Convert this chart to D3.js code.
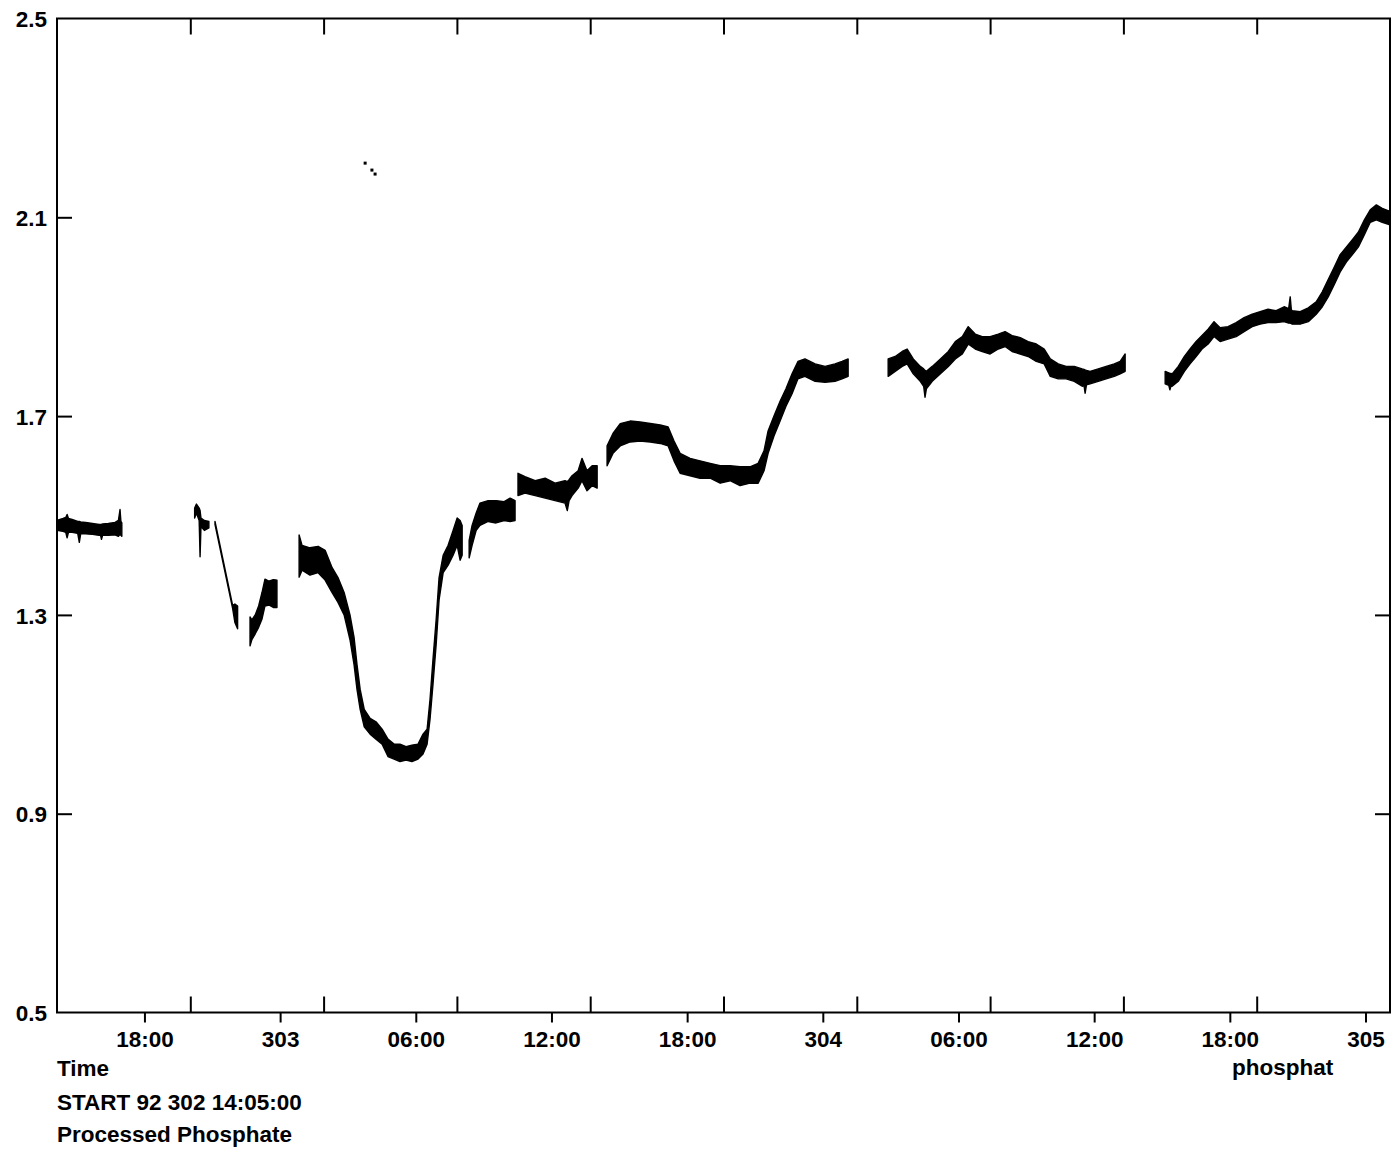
<!DOCTYPE html>
<html>
<head>
<meta charset="utf-8">
<script src="https://cdn.jsdelivr.net/npm/d3@7"></script>
<style>
  html, body { margin: 0; padding: 0; background: #fff; }
  svg { display: block; }
  text { font-family: "Liberation Sans", Arial, Helvetica, sans-serif; font-weight: bold; font-size: 22.5px; fill: #000; }
</style>
</head>
<body>
<svg id="chart" width="1394" height="1156"></svg>
<script>
// Processed phosphate record, START 92 302 14:05:00.
// Time is in hours since day 302 00:00; each row is [time, low, high]
// of the trace envelope.

const timeDomain = [14.133, 73.083];
const valueDomain = [0.5, 2.5];

const yTickValues = [0.5, 0.9, 1.3, 1.7, 2.1, 2.5];
const yTickLabels = ["0.5", "0.9", "1.3", "1.7", "2.1", "2.5"];
const timeTickValues = [18, 24, 30, 36, 42, 48, 54, 60, 66, 72];
const timeTickLabels = ["18:00", "303", "06:00", "12:00", "18:00", "304", "06:00", "12:00", "18:00", "305"];

const segA = [
  [14.13, 1.470, 1.490], [14.40, 1.468, 1.494], [14.52, 1.466, 1.496], [14.58, 1.455, 1.502],
  [14.64, 1.466, 1.494], [14.80, 1.466, 1.492], [15.05, 1.464, 1.488], [15.12, 1.446, 1.488],
  [15.18, 1.463, 1.487], [15.40, 1.463, 1.486], [15.70, 1.462, 1.484], [16.00, 1.460, 1.482],
  [16.06, 1.460, 1.482], [16.10, 1.452, 1.482], [16.15, 1.460, 1.483], [16.40, 1.460, 1.484],
  [16.70, 1.461, 1.486], [16.85, 1.458, 1.490], [16.92, 1.462, 1.512], [16.96, 1.460, 1.488],
  [17.00, 1.458, 1.485]
];
const segB = [
  [20.22, 1.495, 1.515], [20.30, 1.505, 1.523], [20.42, 1.490, 1.515], [20.46, 1.417, 1.510],
  [20.50, 1.478, 1.495], [20.65, 1.470, 1.490], [20.85, 1.475, 1.488]
];
const segBLine = [
  [21.12, 1.482, 1.488], [21.90, 1.313, 1.319], [22.00, 1.285, 1.322], [22.12, 1.272, 1.318]
];
const segC = [
  [22.67, 1.238, 1.296], [22.75, 1.250, 1.290], [22.90, 1.262, 1.300], [23.05, 1.275, 1.318],
  [23.20, 1.292, 1.345], [23.33, 1.318, 1.372], [23.50, 1.320, 1.368], [23.70, 1.315, 1.371],
  [23.86, 1.315, 1.370]
];
const segD = [
  [24.84, 1.376, 1.461], [24.97, 1.390, 1.440], [25.32, 1.380, 1.435], [25.68, 1.385, 1.438],
  [25.99, 1.370, 1.430], [26.30, 1.345, 1.395], [26.56, 1.325, 1.375], [26.83, 1.300, 1.345],
  [27.09, 1.250, 1.300], [27.27, 1.200, 1.255], [27.40, 1.150, 1.200], [27.54, 1.110, 1.150],
  [27.72, 1.075, 1.110], [27.98, 1.060, 1.092], [28.24, 1.050, 1.085], [28.51, 1.040, 1.070],
  [28.77, 1.015, 1.050], [29.04, 1.010, 1.040], [29.30, 1.005, 1.040], [29.57, 1.008, 1.035],
  [29.83, 1.005, 1.038], [30.10, 1.010, 1.040], [30.32, 1.020, 1.060], [30.50, 1.040, 1.070],
  [30.63, 1.090, 1.130], [30.76, 1.160, 1.210], [30.90, 1.240, 1.290], [31.03, 1.330, 1.375],
  [31.21, 1.385, 1.420], [31.43, 1.400, 1.440], [31.65, 1.420, 1.470], [31.83, 1.440, 1.495],
  [31.96, 1.410, 1.490], [32.05, 1.420, 1.480]
];
const segE = [
  [32.36, 1.415, 1.450], [32.49, 1.440, 1.480], [32.67, 1.470, 1.505], [32.84, 1.480, 1.525],
  [33.20, 1.488, 1.530], [33.55, 1.485, 1.530], [33.91, 1.490, 1.528], [34.17, 1.488, 1.535],
  [34.39, 1.490, 1.530]
];
const segF = [
  [34.52, 1.540, 1.585], [34.83, 1.545, 1.578], [35.28, 1.540, 1.570], [35.72, 1.535, 1.575],
  [36.16, 1.530, 1.565], [36.60, 1.525, 1.570], [36.70, 1.510, 1.568], [36.78, 1.530, 1.572],
  [36.91, 1.540, 1.580], [37.18, 1.555, 1.590], [37.35, 1.570, 1.615], [37.57, 1.550, 1.590],
  [37.80, 1.560, 1.600], [38.02, 1.555, 1.600]
];
const segG = [
  [38.46, 1.600, 1.640], [38.72, 1.625, 1.665], [39.04, 1.640, 1.685], [39.48, 1.648, 1.690],
  [39.92, 1.650, 1.688], [40.37, 1.648, 1.685], [40.81, 1.645, 1.682], [41.16, 1.640, 1.678],
  [41.42, 1.610, 1.650], [41.69, 1.585, 1.625], [42.13, 1.580, 1.615], [42.57, 1.575, 1.610],
  [43.02, 1.575, 1.605], [43.46, 1.565, 1.600], [43.90, 1.570, 1.600], [44.34, 1.560, 1.598],
  [44.78, 1.565, 1.598], [45.14, 1.565, 1.605], [45.40, 1.590, 1.630], [45.58, 1.625, 1.670],
  [45.84, 1.660, 1.700], [46.11, 1.690, 1.730], [46.37, 1.720, 1.755], [46.64, 1.745, 1.785],
  [46.90, 1.775, 1.810], [47.21, 1.780, 1.815], [47.66, 1.770, 1.805], [48.10, 1.768, 1.800],
  [48.54, 1.770, 1.805], [48.85, 1.775, 1.810], [49.12, 1.780, 1.815]
];
const segH = [
  [50.89, 1.780, 1.815], [51.20, 1.790, 1.820], [51.51, 1.800, 1.830], [51.73, 1.805, 1.835],
  [52.00, 1.785, 1.815], [52.31, 1.770, 1.800], [52.46, 1.760, 1.795], [52.52, 1.738, 1.792],
  [52.58, 1.755, 1.790], [52.84, 1.770, 1.800], [53.20, 1.785, 1.815], [53.55, 1.800, 1.830],
  [53.86, 1.815, 1.850], [54.17, 1.825, 1.860], [54.43, 1.845, 1.880], [54.74, 1.835, 1.865],
  [55.05, 1.830, 1.860], [55.40, 1.825, 1.860], [55.76, 1.835, 1.865], [56.06, 1.840, 1.870],
  [56.37, 1.830, 1.862], [56.73, 1.825, 1.858], [57.08, 1.820, 1.850], [57.44, 1.810, 1.845],
  [57.79, 1.805, 1.835], [58.06, 1.780, 1.815], [58.41, 1.775, 1.805], [58.76, 1.775, 1.800],
  [59.12, 1.770, 1.800], [59.47, 1.760, 1.795], [59.55, 1.762, 1.794], [59.60, 1.746, 1.793],
  [59.66, 1.763, 1.792], [59.82, 1.765, 1.790], [60.18, 1.770, 1.795], [60.53, 1.775, 1.800],
  [60.89, 1.780, 1.805], [61.15, 1.785, 1.810], [61.37, 1.790, 1.825]
];
const segI = [
  [63.14, 1.765, 1.790], [63.30, 1.762, 1.787], [63.35, 1.753, 1.786], [63.40, 1.761, 1.786],
  [63.45, 1.760, 1.785], [63.72, 1.770, 1.800], [63.99, 1.790, 1.820],
  [64.24, 1.805, 1.835], [64.51, 1.820, 1.850], [64.77, 1.835, 1.862], [65.04, 1.845, 1.875],
  [65.30, 1.860, 1.890], [65.57, 1.850, 1.878], [65.92, 1.855, 1.880], [66.28, 1.860, 1.888],
  [66.63, 1.870, 1.898], [66.99, 1.880, 1.905], [67.34, 1.885, 1.910], [67.69, 1.888, 1.915],
  [68.05, 1.888, 1.912], [68.40, 1.890, 1.920], [68.60, 1.887, 1.916], [68.67, 1.887, 1.940],
  [68.72, 1.886, 1.914], [68.76, 1.885, 1.912], [69.11, 1.885, 1.910],
  [69.47, 1.890, 1.918], [69.82, 1.905, 1.930], [70.09, 1.920, 1.950], [70.35, 1.940, 1.975],
  [70.62, 1.965, 2.000], [70.88, 1.990, 2.025], [71.15, 2.010, 2.040], [71.42, 2.025, 2.055],
  [71.68, 2.040, 2.070], [71.95, 2.065, 2.095], [72.21, 2.090, 2.115], [72.48, 2.095, 2.125],
  [72.74, 2.090, 2.118], [73.08, 2.085, 2.112]
];
// isolated readings
const strayPoints = [[27.76, 2.209], [28.06, 2.195], [28.20, 2.187]];

const segments = [segA, segB, segBLine, segC, segD, segE, segF, segG, segH, segI];

const margin = { left: 57, right: 4, top: 18.5, bottom: 143.5 };
const width = 1394, height = 1156;
const x0 = margin.left, x1 = width - margin.right;
const y0 = height - margin.bottom, y1 = margin.top;

const x = d3.scaleLinear().domain(timeDomain).range([x0, x1]);
const y = d3.scaleLinear().domain(valueDomain).range([y0, y1]);

const svg = d3.select("#chart");

// trace envelopes
const area = d3.area()
  .x(d => x(d[0]))
  .y0(d => y(d[1]))
  .y1(d => y(d[2]));

svg.append("g")
  .selectAll("path")
  .data(segments)
  .join("path")
  .attr("d", area)
  .attr("fill", "#000")
  .attr("stroke", "#000")
  .attr("stroke-width", 1.4)
  .attr("stroke-linejoin", "round");

svg.append("g")
  .selectAll("rect")
  .data(strayPoints)
  .join("rect")
  .attr("x", d => x(d[0]) - 1.5)
  .attr("y", d => y(d[1]) - 1.5)
  .attr("width", 3)
  .attr("height", 3)
  .attr("fill", "#000");

// frame
svg.append("rect")
  .attr("x", x0).attr("y", y1)
  .attr("width", x1 - x0).attr("height", y0 - y1)
  .attr("fill", "none").attr("stroke", "#000").attr("stroke-width", 2);

// ten equal divisions along the time axis, ticked inward at top and bottom
const divisions = d3.range(1, 10).map(k => timeDomain[0] + k * (timeDomain[1] - timeDomain[0]) / 10);

svg.append("g")
  .attr("transform", `translate(0,${y1})`)
  .call(d3.axisBottom(x).tickValues(divisions).tickSize(16).tickFormat(""))
  .call(g => g.select(".domain").remove())
  .call(g => g.selectAll("line").attr("stroke-width", 2));

svg.append("g")
  .attr("transform", `translate(0,${y0})`)
  .call(d3.axisTop(x).tickValues(divisions).tickSize(16).tickFormat(""))
  .call(g => g.select(".domain").remove())
  .call(g => g.selectAll("line").attr("stroke-width", 2));

// labelled time ticks below the frame
const xAxis = svg.append("g")
  .attr("transform", `translate(0,${y0})`)
  .call(d3.axisBottom(x).tickValues(timeTickValues).tickSize(10).tickPadding(4)
    .tickFormat((d, i) => timeTickLabels[i]))
  .call(g => g.select(".domain").remove())
  .call(g => g.selectAll("line").attr("stroke-width", 2));
xAxis.selectAll("text")
  .attr("font-family", null).attr("font-size", null)
  .attr("dy", null).attr("y", 34);

// value axis: labels on the left, inward ticks on both sides
const innerY = yTickValues.slice(1, -1);
svg.append("g")
  .attr("transform", `translate(${x0},0)`)
  .call(d3.axisRight(y).tickValues(innerY).tickSize(15).tickFormat(""))
  .call(g => g.select(".domain").remove())
  .call(g => g.selectAll("line").attr("stroke-width", 2));

svg.append("g")
  .attr("transform", `translate(${x1},0)`)
  .call(d3.axisLeft(y).tickValues(innerY).tickSize(15).tickFormat(""))
  .call(g => g.select(".domain").remove())
  .call(g => g.selectAll("line").attr("stroke-width", 2));

const yAxis = svg.append("g")
  .attr("transform", `translate(${x0},0)`)
  .call(d3.axisLeft(y).tickValues(yTickValues).tickSize(0).tickPadding(10)
    .tickFormat((d, i) => yTickLabels[i]))
  .call(g => g.select(".domain").remove());
yAxis.selectAll("text")
  .attr("font-family", null).attr("font-size", null)
  .attr("dy", "0.36em");

// captions
const captions = [
  { text: "Time", x: 57, y: 1076, anchor: "start" },
  { text: "START 92 302 14:05:00", x: 57, y: 1110, anchor: "start" },
  { text: "Processed Phosphate", x: 57, y: 1142, anchor: "start" },
  { text: "phosphat", x: 1232, y: 1075, anchor: "start" }
];
svg.append("g")
  .selectAll("text")
  .data(captions)
  .join("text")
  .attr("x", d => d.x)
  .attr("y", d => d.y)
  .attr("text-anchor", d => d.anchor)
  .text(d => d.text);
</script>
</body>
</html>
